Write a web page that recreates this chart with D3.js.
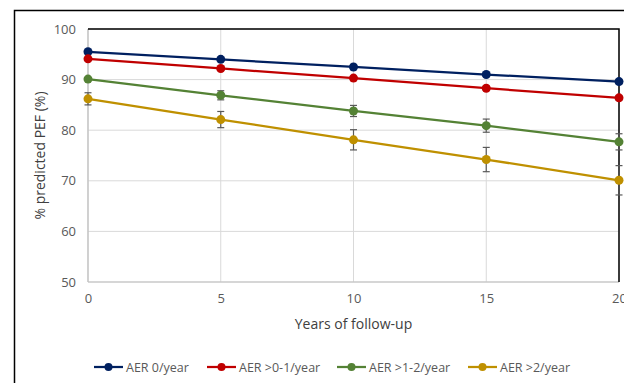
<!DOCTYPE html>
<html>
<head>
<meta charset="utf-8">
<script src="https://cdn.jsdelivr.net/npm/d3@7/dist/d3.min.js"></script>
<style>
  body { margin: 0; background: #fff; }
  svg text { font-family: "Open Sans", "Noto Sans", sans-serif; fill: #595959; }
</style>
</head>
<body>
<div id="chart"></div>
<script>
// years of follow-up
const years = [0, 5, 10, 15, 20];
const seriesNames = ["AER 0/year", "AER >0-1/year", "AER >1-2/year", "AER >2/year"];
const seriesColors = ["#002060", "#c00000", "#548235", "#bf9000"];

// % predicted PEF
const aer0 = [95.5, 94.0, 92.5, 91.0, 89.6];
const aer01 = [94.1, 92.2, 90.3, 88.3, 86.4];
const aer12 = [90.1, 86.9, 83.8, 80.9, 77.7];
const aer2 = [86.2, 82.1, 78.1, 74.2, 70.1];

// half widths of the error bars
const err0 = [0.2, 0.2, 0.3, 0.3, 0.4];
const err01 = [0.2, 0.3, 0.3, 0.4, 0.4];
const err12 = [0.3, 0.9, 1.1, 1.3, 1.6];
const err2 = [1.2, 1.6, 2.0, 2.4, 2.9];

const yTicks = [50, 60, 70, 80, 90, 100];

const series = [aer0, aer01, aer12, aer2].map((vals, i) => ({
    name: seriesNames[i],
    color: seriesColors[i],
    points: vals.map((v, j) => ({ x: years[j], y: v, e: [err0, err01, err12, err2][i][j] }))
}));

const width = 624, height = 383;
const margin = {top: 29, right: 5, bottom: 101, left: 88};

const svg = d3.select("#chart").append("svg")
    .attr("width", width)
    .attr("height", height);

// outer frame (only top and left visible)
svg.append("path")
    .attr("d", "M14.5," + height + "V10.5H" + width)
    .attr("fill", "none")
    .attr("stroke", "#000")
    .attr("stroke-width", 1.5);

const x = d3.scaleLinear()
    .domain([0, 20])
    .range([margin.left, width - margin.right]);

const y = d3.scaleLinear()
    .domain([50, 100])
    .range([height - margin.bottom, margin.top]);

// grid
const grid = svg.append("g");
grid.selectAll(".hgrid").data(yTicks).enter().append("line")
    .attr("x1", x(0)).attr("x2", x(20))
    .attr("y1", d => y(d)).attr("y2", d => y(d))
    .attr("stroke", "#d9d9d9").attr("stroke-width", 1);
grid.selectAll(".vgrid").data(years).enter().append("line")
    .attr("x1", d => x(d)).attr("x2", d => x(d))
    .attr("y1", y(50)).attr("y2", y(100))
    .attr("stroke", "#d9d9d9").attr("stroke-width", 1);

// axes lines
svg.append("line")
    .attr("x1", x(0)).attr("x2", x(0)).attr("y1", y(50)).attr("y2", y(100))
    .attr("stroke", "#bfbfbf").attr("stroke-width", 1.2);
svg.append("line")
    .attr("x1", x(0)).attr("x2", x(20)).attr("y1", y(50)).attr("y2", y(50))
    .attr("stroke", "#bfbfbf").attr("stroke-width", 1.2);
// top and right edges of plot area are black
svg.append("path")
    .attr("d", "M" + x(0) + "," + y(100) + "H" + x(20) + "V" + y(50))
    .attr("fill", "none")
    .attr("stroke", "#000")
    .attr("stroke-width", 1.5);

// tick labels
const yAxis = d3.axisLeft(y).tickValues(yTicks).tickSize(0).tickPadding(12);
const yAxisEl = svg.append("g").attr("transform", "translate(" + x(0) + ",0)").call(yAxis);
yAxisEl.select(".domain").remove();
yAxisEl.selectAll("text").style("font-size", "13px").attr("fill", "#595959");

const xAxis = d3.axisBottom(x).tickValues(years).tickSize(0).tickPadding(12);
const xAxisEl = svg.append("g").attr("transform", "translate(0," + y(50) + ")").call(xAxis);
xAxisEl.select(".domain").remove();
xAxisEl.selectAll("text").style("font-size", "13px").attr("fill", "#595959");

svg.selectAll(".tick text").style("font-family", "'Open Sans', 'Noto Sans', sans-serif");

// axis titles
svg.append("text")
    .attr("transform", "translate(45," + ((y(50) + y(100)) / 2) + ") rotate(-90)")
    .attr("text-anchor", "middle")
    .style("font-size", "14px")
    .style("fill", "#404040")
    .text("% predicted PEF (%)");

svg.append("text")
    .attr("x", (x(0) + x(20)) / 2)
    .attr("y", 329)
    .attr("text-anchor", "middle")
    .style("font-size", "14px")
    .style("fill", "#404040")
    .text("Years of follow-up");

const line = d3.line().x(d => x(d.x)).y(d => y(d.y));

const sg = svg.selectAll(".series").data(series).enter().append("g");

sg.append("path")
    .attr("d", d => line(d.points))
    .attr("fill", "none")
    .attr("stroke", d => d.color)
    .attr("stroke-width", 2.25);

// error bars
sg.each(function(s) {
    const g = d3.select(this).append("g");
    s.points.forEach(p => {
        const cx = x(p.x);
        const y1 = y(p.y + p.e), y2 = y(p.y - p.e);
        g.append("line").attr("x1", cx).attr("x2", cx).attr("y1", y1).attr("y2", y2)
            .attr("stroke", "#595959").attr("stroke-width", 1.2);
        [y1, y2].forEach(yy => g.append("line")
            .attr("x1", cx - 3.5).attr("x2", cx + 3.5).attr("y1", yy).attr("y2", yy)
            .attr("stroke", "#595959").attr("stroke-width", 1.2));
    });
});

sg.selectAll("circle").data(d => d.points.map(p => Object.assign({color: d.color}, p)))
    .enter().append("circle")
    .attr("cx", d => x(d.x))
    .attr("cy", d => y(d.y))
    .attr("r", 4.5)
    .attr("fill", d => d.color);

// legend
const legendX = [94, 207, 337, 468];
const legend = svg.selectAll(".legend").data(series).enter().append("g")
    .attr("transform", (d, i) => "translate(" + legendX[i] + ",367)");
legend.append("line").attr("x1", 0).attr("x2", 29).attr("y1", 0).attr("y2", 0)
    .attr("stroke", d => d.color).attr("stroke-width", 2.25);
legend.append("circle").attr("cx", 14.5).attr("cy", 0).attr("r", 4).attr("fill", d => d.color);
legend.append("text").attr("x", 32).attr("y", 4.5)
    .style("font-size", "12.5px")
    .style("fill", "#595959")
    .text(d => d.name);
</script>
</body>
</html>
